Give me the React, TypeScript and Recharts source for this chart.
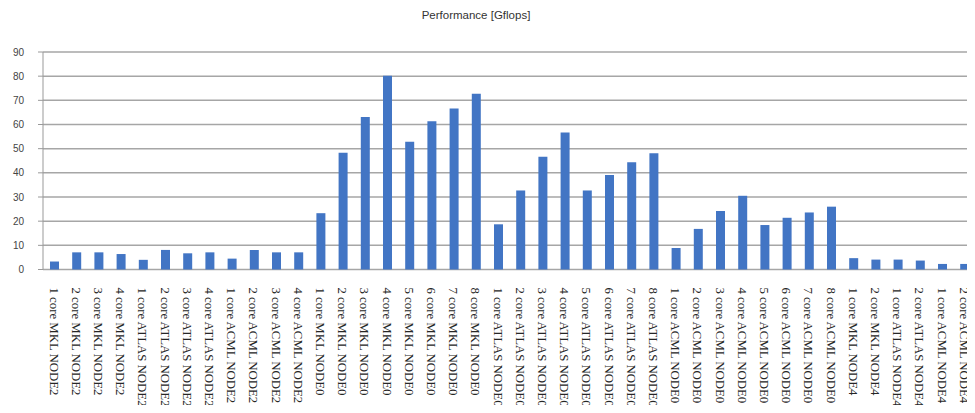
import React from "react";
import { BarChart, Bar, XAxis, YAxis, CartesianGrid } from "recharts";

const categories = [
  "1 core MKL NODE2",
  "2 core MKL NODE2",
  "3 core MKL NODE2",
  "4 core MKL NODE2",
  "1 core ATLAS NODE2",
  "2 core ATLAS NODE2",
  "3 core ATLAS NODE2",
  "4 core ATLAS NODE2",
  "1 core ACML NODE2",
  "2 core ACML NODE2",
  "3 core ACML NODE2",
  "4 core ACML NODE2",
  "1 core MKL NODE0",
  "2 core MKL NODE0",
  "3 core MKL NODE0",
  "4 core MKL NODE0",
  "5 core MKL NODE0",
  "6 core MKL NODE0",
  "7 core MKL NODE0",
  "8 core MKL NODE0",
  "1 core ATLAS NODE0",
  "2 core ATLAS NODE0",
  "3 core ATLAS NODE0",
  "4 core ATLAS NODE0",
  "5 core ATLAS NODE0",
  "6 core ATLAS NODE0",
  "7 core ATLAS NODE0",
  "8 core ATLAS NODE0",
  "1 core ACML NODE0",
  "2 core ACML NODE0",
  "3 core ACML NODE0",
  "4 core ACML NODE0",
  "5 core ACML NODE0",
  "6 core ACML NODE0",
  "7 core ACML NODE0",
  "8 core ACML NODE0",
  "1 core MKL NODE4",
  "2 core MKL NODE4",
  "1 core ATLAS NODE4",
  "2 core ATLAS NODE4",
  "1 core ACML NODE4",
  "2 core ACML NODE4",
];

const gflops = [
  3.3, 7.1, 7.1, 6.4, 4.0, 8.1, 6.7, 7.1, 4.5, 8.1, 7.1, 7.1,
  23.3, 48.3, 63.1, 80.2, 52.9, 61.3, 66.6, 72.7,
  18.7, 32.7, 46.7, 56.7, 32.7, 39.1, 44.4, 48.1,
  8.9, 16.8, 24.2, 30.5, 18.4, 21.4, 23.6, 26.0,
  4.7, 4.1, 4.1, 3.7, 2.3, 2.3,
];

const yTicks = [0, 10, 20, 30, 40, 50, 60, 70, 80, 90];
// boundaries between categories, for the Excel-style tick marks
const edgeTicks = categories.map((_, i) => i).concat([categories.length]);

const data = categories.map((name, i) => ({ name, value: gflops[i] }));

function RotatedTick(props: any) {
  const { x, y, payload } = props;
  return (
    <text
      x={x}
      y={y}
      dy="0.36em"
      transform={`rotate(90, ${x}, ${y})`}
      textAnchor="start"
      fill="#262626"
      fontSize={12.8}
      fontFamily="'Liberation Serif', 'DejaVu Serif', serif"
    >
      {payload.value}
    </text>
  );
}

export default function App() {
  return (
    <div
      style={{
        position: "relative",
        width: 975,
        height: 413,
        margin: -8,
        overflow: "hidden",
        background: "#fff",
      }}
    >
      <div
        style={{
          position: "absolute",
          top: 9,
          left: 376,
          width: 200,
          textAlign: "center",
          fontFamily: "'Liberation Sans', Arial, sans-serif",
          fontSize: 11.5,
          color: "#333",
        }}
      >
        Performance [Gflops]
      </div>
      <BarChart
        width={982}
        height={413}
        data={data}
        margin={{ top: 52, right: 6.6, bottom: 0, left: 0 }}
      >
        <CartesianGrid vertical={false} stroke="#a6a6a6" strokeWidth={1.5} />
        <XAxis
          xAxisId="edges"
          type="number"
          dataKey="none"
          domain={[0, categories.length]}
          ticks={edgeTicks}
          allowDataOverflow
          height={0}
          tick={false}
          tickSize={5}
          axisLine={{ stroke: "#999" }}
          tickLine={{ stroke: "#999" }}
        />
        <XAxis
          dataKey="name"
          interval={0}
          height={143.5}
          axisLine={false}
          tickLine={false}
          tick={<RotatedTick />}
          tickMargin={12}
        />
        <YAxis
          domain={[0, 90]}
          ticks={yTicks}
          width={43}
          tickSize={5}
          tickMargin={14}
          axisLine={{ stroke: "#999" }}
          tickLine={{ stroke: "#999" }}
          tick={{ fontSize: 10, fill: "#444", fontFamily: "'Liberation Sans', Arial, sans-serif" }}
        />
        <Bar dataKey="value" fill="#4275c4" barSize={9} isAnimationActive={false} />
      </BarChart>
    </div>
  );
}
